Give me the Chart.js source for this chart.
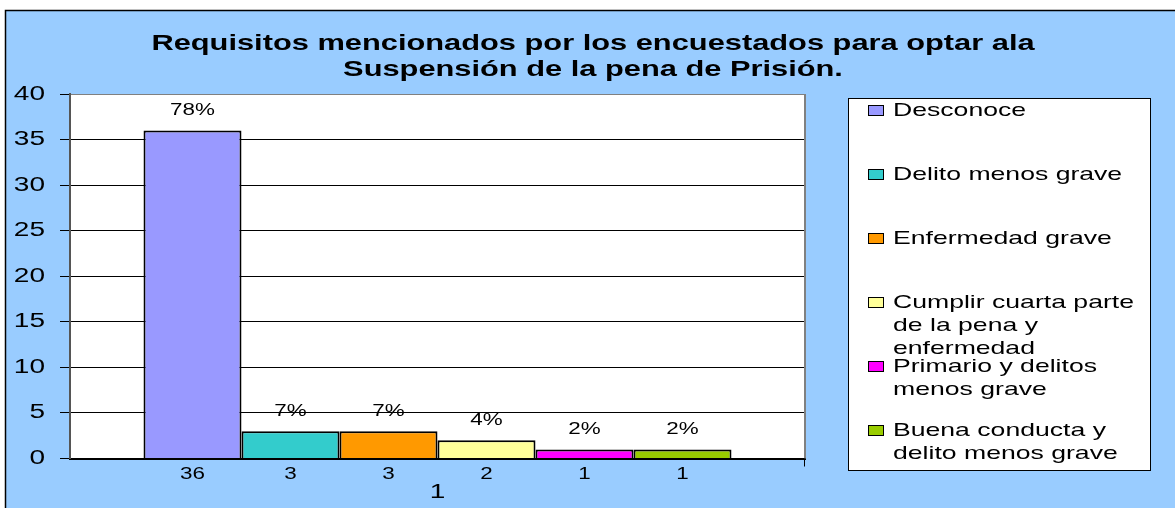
<!DOCTYPE html>
<html>
<head>
<meta charset="utf-8">
<script src="https://cdn.jsdelivr.net/npm/chart.js@4/dist/chart.umd.min.js"></script>
<style>
  html, body { margin: 0; padding: 0; background: #fff; overflow: hidden; }
  canvas { display: block; }
</style>
</head>
<body>
<canvas id="myChart" width="1175" height="508"></canvas>
<script>
// datos del grafico
const categories = ['1'];
const seriesNames = [
    ['Desconoce'],
    ['Delito menos grave'],
    ['Enfermedad grave'],
    ['Cumplir cuarta parte', 'de la pena y', 'enfermedad'],
    ['Primario y delitos', 'menos grave'],
    ['Buena conducta y', 'delito menos grave']
];
const seriesValues = [36, 3, 3, 2, 1, 1];
const percentLabels = ['78%', '7%', '7%', '4%', '2%', '2%'];
const seriesColors = ['#9999FF', '#33CCCC', '#FF9900', '#FFFF99', '#FF00FF', '#99CC00'];
const titleLines = ['Requisitos mencionados por los encuestados para optar ala', 'Suspensión de la pena de Prisión.'];

const FONT = '"Liberation Sans", Arial, sans-serif';
const SX = 1.4; // el original esta estirado a lo ancho

function wideText(ctx, text, x, y, font, align) {
    ctx.save();
    ctx.font = font;
    ctx.fillStyle = '#000';
    ctx.textAlign = align || 'center';
    ctx.textBaseline = 'middle';
    ctx.translate(x, y);
    ctx.scale(SX, 1);
    ctx.fillText(text, 0, 0);
    ctx.restore();
}

const decoracion = {
    id: 'decoracion',
    beforeDraw(chart) {
        const ctx = chart.ctx;
        const a = chart.chartArea;
        ctx.save();
        ctx.fillStyle = '#fff';
        ctx.fillRect(0, 0, chart.width, chart.height);
        ctx.fillStyle = '#99CCFF';
        ctx.fillRect(5, 10, chart.width, chart.height);
        ctx.strokeStyle = '#000';
        ctx.lineWidth = 1.5;
        ctx.strokeRect(5.5, 10.5, chart.width + 10, chart.height + 10);
        ctx.fillStyle = '#fff';
        ctx.fillRect(a.left, a.top, a.right - a.left, a.bottom - a.top);
        ctx.restore();
    },
    afterDraw(chart) {
        const ctx = chart.ctx;
        const a = chart.chartArea;
        const y = chart.scales.y;
        const x = chart.scales.x;

        // borde derecho del area de trazado
        ctx.save();
        ctx.strokeStyle = '#808080';
        ctx.lineWidth = 2;
        ctx.beginPath();
        ctx.moveTo(a.right, a.top);
        ctx.lineTo(a.right, a.bottom);
        ctx.stroke();
        ctx.strokeStyle = '#000';
        ctx.lineWidth = 1;
        ctx.beginPath();
        ctx.moveTo(a.right - 0.5, a.bottom);
        ctx.lineTo(a.right - 0.5, a.bottom + 8);
        ctx.stroke();
        ctx.restore();

        // titulo
        titleLines.forEach((t, i) => wideText(ctx, t, 593, 44 + i * 26, 'bold 22px ' + FONT));

        // etiquetas del eje y
        y.ticks.forEach(t => {
            wideText(ctx, String(t.value), 45, y.getPixelForValue(t.value), '20px ' + FONT, 'right');
        });

        // etiqueta de categoria
        wideText(ctx, categories[0], x.getPixelForValue(0), 492, '20px ' + FONT);

        // porcentajes arriba y valores abajo de cada barra
        chart.data.datasets.forEach((ds, i) => {
            const bar = chart.getDatasetMeta(i).data[0];
            wideText(ctx, percentLabels[i], bar.x, bar.y - 20, '16px ' + FONT);
            wideText(ctx, String(ds.data[0]), bar.x, 475, '16px ' + FONT);
        });

        // leyenda
        ctx.save();
        ctx.fillStyle = '#fff';
        ctx.fillRect(848, 98, 302, 372);
        ctx.strokeStyle = '#000';
        ctx.lineWidth = 1;
        ctx.strokeRect(848.5, 98.5, 302, 372);
        ctx.restore();
        chart.data.datasets.forEach((ds, i) => {
            const top = 111 + i * 64;
            ctx.save();
            ctx.fillStyle = ds.backgroundColor;
            ctx.fillRect(868.5, top - 5.5, 15, 10);
            ctx.strokeStyle = '#000';
            ctx.lineWidth = 1;
            ctx.strokeRect(868.5, top - 5.5, 15, 10);
            ctx.restore();
            seriesNames[i].forEach((line, j) => {
                wideText(ctx, line, 893, top + j * 23, '19px ' + FONT, 'left');
            });
        });
    }
};

const ctx = document.getElementById('myChart').getContext('2d');
new Chart(ctx, {
    type: 'bar',
    data: {
        labels: categories,
        datasets: seriesValues.map((v, i) => ({
            label: seriesNames[i].join(' '),
            data: [v],
            backgroundColor: seriesColors[i],
            borderColor: '#000',
            borderWidth: 2,
            categoryPercentage: 0.8,
            barPercentage: 1
        }))
    },
    options: {
        responsive: false,
        animation: false,
        layout: { padding: { top: 94, left: 5, right: 370, bottom: 0 } },
        plugins: {
            legend: { display: false },
            title: { display: false },
            tooltip: { enabled: false }
        },
        scales: {
            x: {
                grid: { display: false, drawTicks: false },
                border: { color: '#000', width: 2 },
                ticks: { display: false },
                afterFit(scale) { scale.height = 49.5; }
            },
            y: {
                min: 0,
                max: 40,
                ticks: { stepSize: 5, display: false },
                grid: {
                    color: c => (c.tick && c.tick.value === 40) ? '#808080' : '#000',
                    tickColor: '#000',
                    tickLength: 10,
                    lineWidth: 1
                },
                border: { color: '#555', width: 2 },
                afterFit(scale) { scale.width = 65; }
            }
        }
    },
    plugins: [decoracion]
});
</script>
</body>
</html>
